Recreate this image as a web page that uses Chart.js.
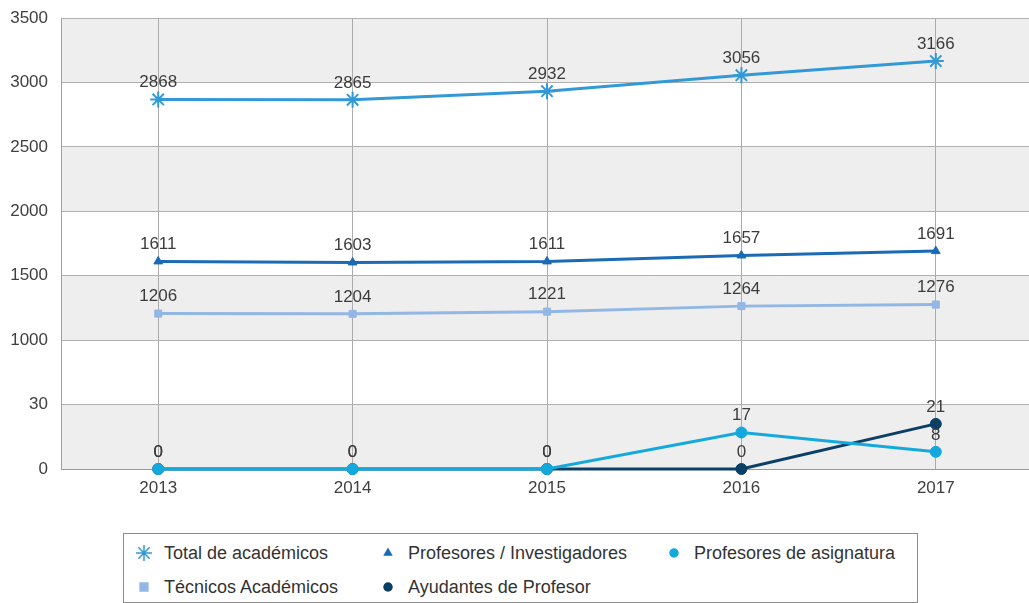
<!DOCTYPE html>
<html>
<head>
<meta charset="utf-8">
<script src="https://cdn.jsdelivr.net/npm/chart.js@4"></script>
<style>
  html, body { margin:0; padding:0; background:#fff; width:1029px; height:603px; overflow:hidden; }
  #wrap { position:absolute; left:0; top:0; width:1043px; height:603px; }
  #legend { position:absolute; left:123px; top:533px; width:793px; height:68px; border:1px solid #8c8c8c; background:#fff;
            font-family:"Liberation Sans", Arial, sans-serif; font-size:18px; color:#333; }
  .item { position:absolute; display:flex; align-items:center; height:22px; }
  .item canvas { margin-right:12px; }
</style>
</head>
<body>
<div id="wrap"><canvas id="c" width="1043" height="603"></canvas></div>
<div id="legend"></div>
<script>
const categories = ['2013', '2014', '2015', '2016', '2017'];
const yTickLabels = ['0', '30', '1000', '1500', '2000', '2500', '3000', '3500'];
const totalAcademicos = [2868, 2865, 2932, 3056, 3166];
const profesoresInvestigadores = [1611, 1603, 1611, 1657, 1691];
const tecnicosAcademicos = [1206, 1204, 1221, 1264, 1276];
const profesoresAsignatura = [0, 0, 0, 17, 8];
const ayudantesProfesor = [0, 0, 0, 0, 21];

// broken-axis mapping: 0-30 one band, 30-1000 one band, then 500 per band
function brk(v) {
  if (v === null) return null;
  if (v <= 30) return v / 30;
  if (v <= 1000) return 1 + (v - 30) / 970;
  return 2 + (v - 1000) / 500;
}

const series = [
  { label: 'Total de académicos', data: totalAcademicos, color: '#3399d6', style: 'star', r: 8 },
  { label: 'Profesores / Investigadores', data: profesoresInvestigadores, color: '#1a6ab5', style: 'triangle', r: 5 },
  { label: 'Profesores de asignatura', data: profesoresAsignatura, color: '#14a9dd', style: 'circle', r: 5.5 },
  { label: 'Técnicos Académicos', data: tecnicosAcademicos, color: '#93b7e4', style: 'rect', r: 5 },
  { label: 'Ayudantes de Profesor', data: ayudantesProfesor, color: '#0b3f66', style: 'circle', r: 5.5 }
];
const drawOrder = { 'Ayudantes de Profesor': 5, 'Profesores de asignatura': 1 };

const datasets = series.map(s => ({
  label: s.label,
  data: s.data.map(brk),
  raw: s.data,
  borderColor: s.color,
  backgroundColor: s.color,
  borderWidth: 3,
  pointStyle: s.style,
  pointRadius: s.r,
  pointHoverRadius: s.r,
  pointBorderWidth: s.style === 'star' ? 2 : 1,
  tension: 0,
  order: drawOrder[s.label] || 2,
  clip: false
}));

const bandsPlugin = {
  id: 'bands',
  beforeDraw(chart) {
    const { ctx, chartArea: a, scales: { y } } = chart;
    ctx.save();
    ctx.fillStyle = '#eeeeee';
    for (let i = 0; i < 7; i += 2) {
      const y0 = y.getPixelForValue(i + 1), y1 = y.getPixelForValue(i);
      ctx.fillRect(a.left, y0, a.right - a.left, y1 - y0);
    }
    ctx.restore();
  }
};

const labelsPlugin = {
  id: 'valueLabels',
  afterDatasetsDraw(chart) {
    const { ctx } = chart;
    ctx.save();
    ctx.font = '17px "Liberation Sans", Arial, sans-serif';
    ctx.fillStyle = '#3c3c3c';
    ctx.textAlign = 'center';
    ctx.textBaseline = 'middle';
    chart.data.datasets.forEach((ds, di) => {
      const meta = chart.getDatasetMeta(di);
      meta.data.forEach((pt, i) => {
        const v = ds.raw[i];
        if (v === null || v === undefined) return;
        ctx.fillText(String(v), pt.x, pt.y - 17);
      });
    });
    ctx.restore();
  }
};

const chart = new Chart(document.getElementById('c'), {
  type: 'line',
  data: { labels: categories, datasets },
  options: {
    responsive: false,
    animation: false,
    layout: { padding: { top: 18, right: 0, left: 0, bottom: 0 } },
    plugins: { legend: { display: false }, tooltip: { enabled: false } },
    scales: {
      x: {
        offset: true,
        grid: { offset: false, color: '#ababab', drawTicks: false, lineWidth: 1 },
        border: { color: '#9a9a9a', width: 1 },
        ticks: { color: '#404040', padding: 9, font: { family: '"Liberation Sans", Arial, sans-serif', size: 17 } },
        afterFit(scale) { scale.height = 134; }
      },
      y: {
        min: 0, max: 7,
        grid: { color: '#b0b0b0', drawTicks: false, lineWidth: 1 },
        border: { color: '#a0a0a0', width: 1 },
        ticks: {
          stepSize: 1,
          padding: 13,
          color: '#404040',
          font: { family: '"Liberation Sans", Arial, sans-serif', size: 17 },
          callback: (v) => yTickLabels[v]
        },
        afterFit(scale) { scale.width = 61; scale.paddingTop = 0; scale.paddingBottom = 0; }
      }
    }
  },
  plugins: [bandsPlugin, labelsPlugin]
});

// HTML legend (grid layout like reference)
const legendPos = [
  { x: 12, y: 8 }, { x: 256, y: 8 }, { x: 542, y: 8 },
  { x: 12, y: 42 }, { x: 256, y: 42 }
];
const legend = document.getElementById('legend');
series.forEach((s, i) => {
  const d = document.createElement('div');
  d.className = 'item';
  d.style.left = legendPos[i].x + 'px';
  d.style.top = legendPos[i].y + 'px';
  const ic = document.createElement('canvas');
  ic.width = 16; ic.height = 16;
  const g = ic.getContext('2d');
  g.fillStyle = s.color; g.strokeStyle = s.color; g.lineWidth = 1.5;
  const r = s.style === 'star' ? 8 : (s.style === 'rect' ? 5.5 : 4);
  Chart.helpers.drawPoint(g, { pointStyle: s.style, radius: r, borderWidth: 1.5 }, 8, 8);
  d.appendChild(ic);
  const t = document.createElement('span');
  t.textContent = s.label;
  d.appendChild(t);
  legend.appendChild(d);
});
</script>
</body>
</html>
